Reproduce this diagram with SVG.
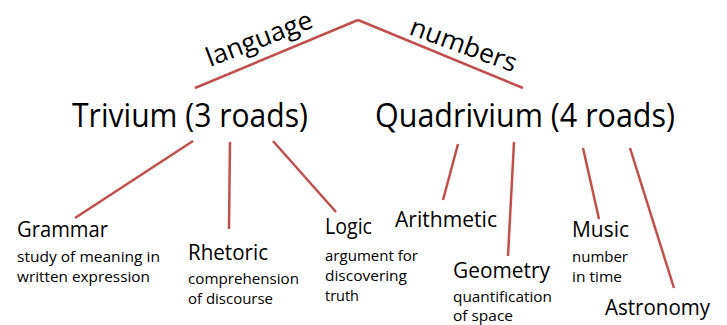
<svg xmlns="http://www.w3.org/2000/svg" width="727" height="325" viewBox="0 0 727 325">
<style>
text{font-family:"Open Sans","Liberation Sans",sans-serif;fill:#000}
.t{font-size:32px}
.h{font-size:21px}
.s{font-size:15px}
.r{font-size:26px}
.c line{stroke:#C0504D;stroke-width:2.5;stroke-linecap:butt}
</style>
<rect width="727" height="325" fill="#fff"/>
<g id="connectors" class="c">
<line x1="195" y1="88" x2="358" y2="20"/>
<line x1="358" y1="20" x2="523" y2="88"/>
<line x1="193" y1="141" x2="75" y2="218"/>
<line x1="230" y1="142" x2="229" y2="229"/>
<line x1="273" y1="141" x2="336" y2="212"/>
<line x1="458" y1="144" x2="443" y2="200"/>
<line x1="514" y1="142" x2="508" y2="256"/>
<line x1="583" y1="148" x2="599" y2="219"/>
<line x1="630" y1="148" x2="674" y2="288"/>
</g>
<g id="label-language"><text class="r" transform="translate(210,67) rotate(-21)" textLength="112" lengthAdjust="spacingAndGlyphs">language</text></g>
<g id="label-numbers"><text class="r" transform="translate(408,34) rotate(20)" textLength="112" lengthAdjust="spacingAndGlyphs">numbers</text></g>
<g id="trivium"><text class="t" x="72" y="127" textLength="236" lengthAdjust="spacingAndGlyphs">Trivium (3 roads)</text></g>
<g id="quadrivium"><text class="t" x="375" y="127" textLength="300" lengthAdjust="spacingAndGlyphs">Quadrivium (4 roads)</text></g>
<g id="grammar">
<text class="h" x="17" y="237" textLength="91" lengthAdjust="spacingAndGlyphs">Grammar</text>
<text class="s" x="17" y="262" textLength="143" lengthAdjust="spacingAndGlyphs">study of meaning in</text>
<text class="s" x="17" y="282" textLength="133" lengthAdjust="spacingAndGlyphs">written expression</text>
</g>
<g id="rhetoric">
<text class="h" x="188" y="260" textLength="80" lengthAdjust="spacingAndGlyphs">Rhetoric</text>
<text class="s" x="188" y="284" textLength="111" lengthAdjust="spacingAndGlyphs">comprehension</text>
<text class="s" x="188" y="304" textLength="85" lengthAdjust="spacingAndGlyphs">of discourse</text>
</g>
<g id="logic">
<text class="h" x="325" y="234" textLength="47" lengthAdjust="spacingAndGlyphs">Logic</text>
<text class="s" x="325" y="261" textLength="93" lengthAdjust="spacingAndGlyphs">argument for</text>
<text class="s" x="325" y="281" textLength="82" lengthAdjust="spacingAndGlyphs">discovering</text>
<text class="s" x="325" y="301" textLength="34" lengthAdjust="spacingAndGlyphs">truth</text>
</g>
<g id="arithmetic"><text class="h" x="395" y="227" textLength="102" lengthAdjust="spacingAndGlyphs">Arithmetic</text></g>
<g id="geometry">
<text class="h" x="453" y="278" textLength="97" lengthAdjust="spacingAndGlyphs">Geometry</text>
<text class="s" x="453" y="302" textLength="99" lengthAdjust="spacingAndGlyphs">quantification</text>
<text class="s" x="453" y="321" textLength="60" lengthAdjust="spacingAndGlyphs">of space</text>
</g>
<g id="music">
<text class="h" x="572" y="237" textLength="57" lengthAdjust="spacingAndGlyphs">Music</text>
<text class="s" x="572" y="262" textLength="56" lengthAdjust="spacingAndGlyphs">number</text>
<text class="s" x="572" y="282" textLength="50" lengthAdjust="spacingAndGlyphs">in time</text>
</g>
<g id="astronomy"><text class="h" x="605" y="315" textLength="105" lengthAdjust="spacingAndGlyphs">Astronomy</text></g>
</svg>
